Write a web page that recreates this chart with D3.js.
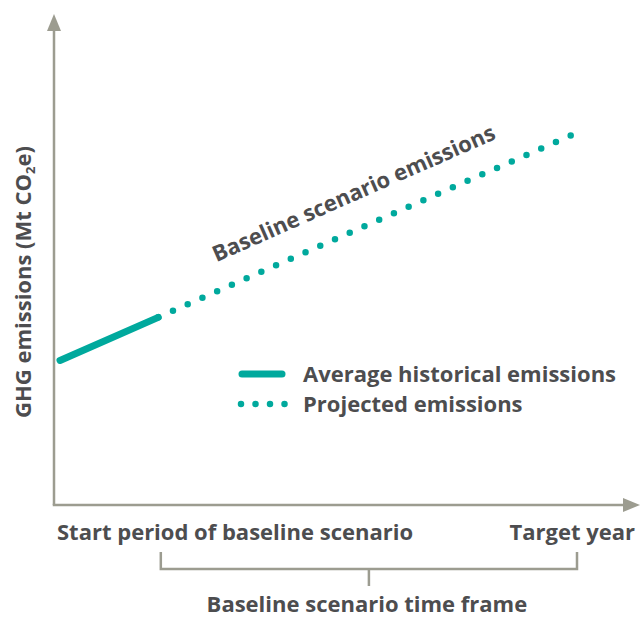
<!DOCTYPE html>
<html>
<head>
<meta charset="utf-8">
<script src="https://cdn.jsdelivr.net/npm/d3@7"></script>
<style>
  html, body { margin: 0; padding: 0; background: #fff; }
  svg text { font-family: "Open Sans", Lato, sans-serif; font-weight: 700; fill: #4d4d4f; }
</style>
</head>
<body>
<svg id="chart" width="640" height="617"></svg>
<script>
// ---- data ----
const periodLabels = ["Start period of baseline scenario", "Target year"];
const historicalT = [0, 19];
const historicalV = [29.5, 38.3];
const projectedT = [19, 100];
const projectedV = [38.3, 76];
const seriesNames = ["Average historical emissions", "Projected emissions"];
const yAxisTitle = "GHG emissions (Mt CO";
const lineLabel = "Baseline scenario emissions";
const timeFrameLabel = "Baseline scenario time frame";

const teal = "#00a99d";
const axisCol = "#9c9c90";
const fs = 22;

const svg = d3.select("#chart");
const x = d3.scaleLinear().domain([0, 100]).range([60, 577]);
const y = d3.scaleLinear().domain([0, 100]).range([505, 15]);

const x0 = 54, y0 = 505;

// axes
svg.append("line").attr("x1", x0).attr("y1", y0).attr("x2", x0).attr("y2", 28)
  .attr("stroke", axisCol).attr("stroke-width", 2.5);
svg.append("path").attr("d", `M${x0},14 L${x0 - 7},31 L${x0 + 7},31 Z`).attr("fill", axisCol);
svg.append("line").attr("x1", x0 - 1.25).attr("y1", y0).attr("x2", 626).attr("y2", y0)
  .attr("stroke", axisCol).attr("stroke-width", 2.5);
svg.append("path").attr("d", `M640,${y0} L623,${y0 - 7} L623,${y0 + 7} Z`).attr("fill", axisCol);

// lines
const hist = historicalT.map((t, i) => [t, historicalV[i]]);
const proj = projectedT.map((t, i) => [t, projectedV[i]]);
const line = d3.line().x(d => x(d[0])).y(d => y(d[1]));

svg.append("path").attr("d", line(proj)).attr("fill", "none")
  .attr("stroke", teal).attr("stroke-width", 6.5).attr("stroke-linecap", "round")
  .attr("stroke-dasharray", "0,16.1");
svg.append("path").attr("d", line(hist)).attr("fill", "none")
  .attr("stroke", teal).attr("stroke-width", 7).attr("stroke-linecap", "round");

// rotated line label
const tMid = 59.5;
const vMid = projectedV[0] + (projectedV[1] - projectedV[0]) * (tMid - projectedT[0]) / (projectedT[1] - projectedT[0]);
const ang = Math.atan2(y(projectedV[1]) - y(projectedV[0]), x(projectedT[1]) - x(projectedT[0])) * 180 / Math.PI;
svg.append("text")
  .attr("transform", `translate(${x(tMid)},${y(vMid)}) rotate(${ang})`)
  .attr("y", -27).attr("text-anchor", "middle").attr("font-size", fs)
  .text(lineLabel);

// y axis title
const yt = svg.append("text")
  .attr("transform", `translate(31,282) rotate(-90)`)
  .attr("text-anchor", "middle").attr("font-size", fs);
yt.append("tspan").text(yAxisTitle);
yt.append("tspan").attr("font-size", 13).attr("dy", 4).text("2");
yt.append("tspan").attr("dy", -4).text("e)");

// x labels
svg.append("text").attr("x", 57).attr("y", 540).attr("font-size", fs).text(periodLabels[0]);
svg.append("text").attr("x", 635).attr("y", 540).attr("text-anchor", "end").attr("font-size", fs).text(periodLabels[1]);

// bracket
const bx1 = x(historicalT[1] + 0.5), bx2 = x(projectedT[1]);
svg.append("path")
  .attr("d", `M${bx1},552 V569 H${bx2} V552 M${(bx1 + bx2) / 2},569 V586`)
  .attr("fill", "none").attr("stroke", axisCol).attr("stroke-width", 2.5);
svg.append("text").attr("x", (bx1 + bx2) / 2 - 2).attr("y", 612).attr("text-anchor", "middle")
  .attr("font-size", fs).text(timeFrameLabel);

// legend
const lg = svg.append("g");
lg.append("line").attr("x1", 242).attr("x2", 282).attr("y1", 374).attr("y2", 374)
  .attr("stroke", teal).attr("stroke-width", 7).attr("stroke-linecap", "round");
lg.append("line").attr("x1", 241).attr("x2", 285).attr("y1", 404).attr("y2", 404)
  .attr("stroke", teal).attr("stroke-width", 6.5).attr("stroke-linecap", "round")
  .attr("stroke-dasharray", "0,14.5");
lg.append("text").attr("x", 303).attr("y", 382).attr("font-size", fs).text(seriesNames[0]);
lg.append("text").attr("x", 303).attr("y", 412).attr("font-size", fs).text(seriesNames[1]);
</script>
</body>
</html>
